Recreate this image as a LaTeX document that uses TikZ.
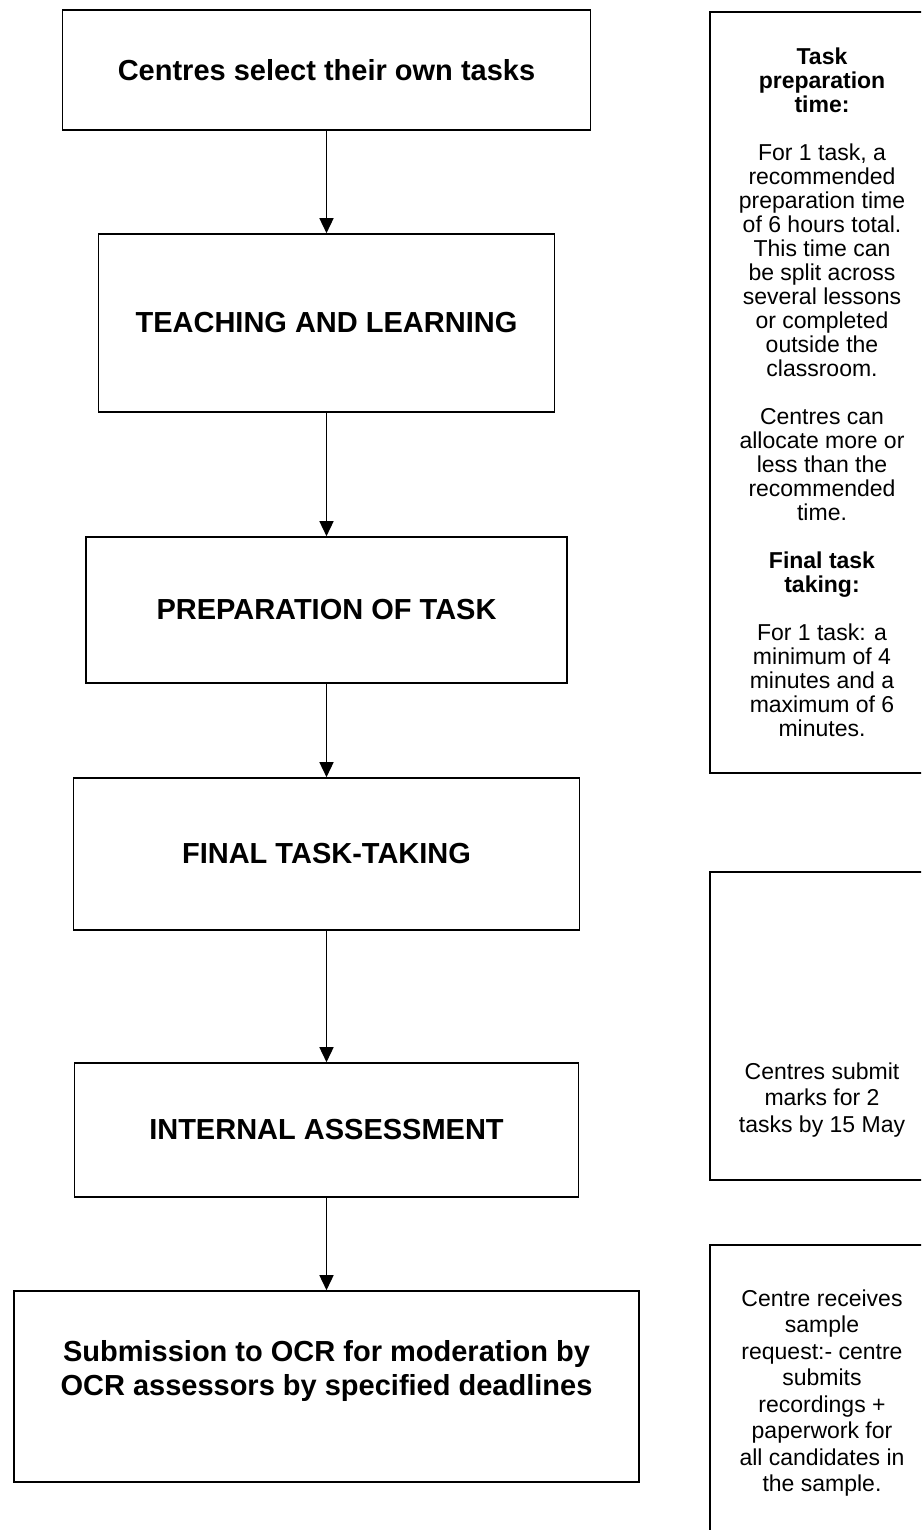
\documentclass[tikz,border=0pt]{standalone}
\usepackage{fontspec}
\setmainfont{Liberation Sans}
\usetikzlibrary{arrows.meta}

\tikzset{
  stage/.style={draw, line width=1.6pt, align=center, inner sep=0pt,
    font=\fontsize{29}{34}\selectfont\bfseries},
  sidebox/.style={draw, line width=1.6pt, align=center, inner sep=0pt,
    minimum width=224pt, font=\fontsize{23}{24}\selectfont},
  sidetext/.style={align=center, inner sep=0pt, font=\fontsize{23}{26.5}\selectfont},
  flow/.style={line width=1.5pt, -{Triangle[length=15pt,width=14pt]}}
}

\begin{document}
\begin{tikzpicture}[x=1pt, y=-1pt]
    \useasboundingbox (0,0) rectangle (921,1530);
    \clip (0,0) rectangle (921,1530);

    % main column
    \node[stage, minimum width=528pt, minimum height=120pt] (select) at (326.5,70) {Centres select their own tasks};
    \node[stage, minimum width=456pt, minimum height=178pt] (teach) at (326.5,323) {TEACHING AND LEARNING};
    \node[stage, minimum width=481pt, minimum height=146pt] (prep) at (326.5,610) {PREPARATION OF TASK};
    \node[stage, minimum width=506pt, minimum height=152pt] (final) at (326.5,854) {FINAL TASK-TAKING};
    \node[stage, minimum width=504pt, minimum height=134pt] (internal) at (326.5,1130) {INTERNAL ASSESSMENT};
    \node[stage, minimum width=625pt, minimum height=191pt] (submit) at (326.5,1386.5) {};
    \node[stage, draw=none] (submittext) at ([yshift=16pt]submit.center)
        {Submission to OCR for moderation by\\OCR assessors by specified deadlines};

    \draw[flow] (select.south) -- (teach.north);
    \draw[flow] (teach.south) -- (prep.north);
    \draw[flow] (prep.south) -- (final.north);
    \draw[flow] (final.south) -- (internal.north);
    \draw[flow] (internal.south) -- (submit.north);

    % notes on the right
    \node[sidebox, minimum height=761pt] (timing) at (822,392.5)
        {\textbf{Task}\\\textbf{preparation}\\\textbf{time:}\\[24pt]
         For 1 task, a\\recommended\\preparation time\\of 6 hours total.\\This time can\\be split across\\several lessons\\or completed\\outside the\\classroom.\\[24pt]
         Centres can\\allocate more or\\less than the\\recommended\\time.\\[24pt]
         \textbf{Final task}\\\textbf{taking:}\\[24pt]
         For 1 task: a\\minimum of 4\\minutes and a\\maximum of 6\\minutes.};
    \node[sidebox, minimum height=308pt] (marks) at (822,1026) {};
    \node[sidetext] (markstext) at ([yshift=-74pt]marks.center)
        {Centres submit\\marks for 2\\tasks by 15 May};
    \node[sidebox, minimum height=296pt, font=\fontsize{23}{26.5}\selectfont] (sample) at (822,1393)
        {Centre receives\\sample\\request:- centre\\submits\\recordings +\\paperwork for\\all candidates in\\the sample.};
\end{tikzpicture}
\end{document}
